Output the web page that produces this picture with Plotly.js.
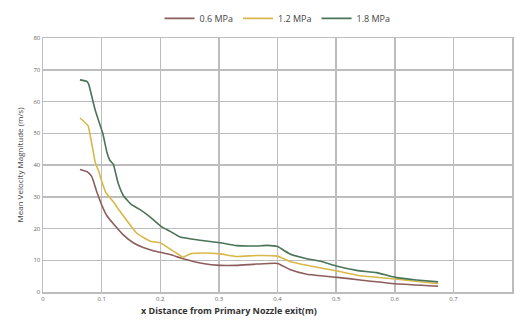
<!DOCTYPE html>
<html>
<head>
<meta charset="utf-8">
<script src="https://cdn.plot.ly/plotly-3.0.1.min.js"></script>
<style>html,body{margin:0;padding:0;background:#fff;}#chart{width:516px;height:322px;}</style>
</head>
<body>
<div id="chart"></div>
<script>
// Series names
const seriesNames = ["0.6 MPa", "1.2 MPa", "1.8 MPa"];

// 0.6 MPa
const x06 = [0.063,0.075,0.083,0.092,0.100,0.109,0.120,0.137,0.154,0.171,0.188,0.205,0.217,0.239,0.273,0.302,0.330,0.365,0.400,0.421,0.450,0.502,0.541,0.601,0.674];
const v06 = [38.6,37.9,36.4,31.4,27.5,24.0,21.5,18.0,15.5,14.0,13.0,12.3,11.8,10.5,9.0,8.4,8.4,8.8,9.0,7.1,5.6,4.6,3.8,2.6,1.8];

// 1.2 MPa
const x12 = [0.063,0.072,0.077,0.083,0.089,0.095,0.100,0.107,0.120,0.131,0.143,0.160,0.183,0.200,0.217,0.239,0.251,0.273,0.302,0.330,0.365,0.400,0.421,0.450,0.502,0.541,0.601,0.674];
const v12 = [54.8,53.3,52.3,46.9,40.9,38.0,35.0,31.4,28.4,25.5,22.5,18.5,16.0,15.5,13.5,11.0,12.0,12.3,12.0,11.2,11.5,11.3,9.6,8.4,6.6,5.1,4.1,2.6];

// 1.8 MPa
const x18 = [0.063,0.075,0.078,0.089,0.102,0.109,0.114,0.120,0.128,0.137,0.151,0.165,0.183,0.202,0.217,0.234,0.268,0.302,0.330,0.365,0.382,0.400,0.421,0.450,0.475,0.502,0.535,0.569,0.601,0.637,0.674];
const v18 = [66.8,66.3,65.4,57.3,49.9,44.0,41.5,40.2,34.4,30.4,27.5,26.0,23.6,20.6,19.1,17.3,16.3,15.5,14.6,14.5,14.7,14.3,12.0,10.5,9.6,8.1,6.8,6.1,4.6,3.8,3.2];

// Tick labels
const xTicks = [0,0.1,0.2,0.3,0.4,0.5,0.6,0.7,0.8];
const xTickText = ["0","0.1","0.2","0.3","0.4","0.5","0.6","0.7","0.8"];
const yTicks = [0,10,20,30,40,50,60,70,80];

const colors = ["#8b5e5c", "#d8b84a", "#4a7458"];

const traces = [
  {x: x06, y: v06, name: seriesNames[0]},
  {x: x12, y: v12, name: seriesNames[1]},
  {x: x18, y: v18, name: seriesNames[2]}
].map((t, i) => Object.assign(t, {
  type: "scatter", mode: "lines",
  line: {color: colors[i], width: 1.6, shape: "spline", smoothing: 0.4}
}));

const layout = {
  width: 516, height: 322,
  margin: {l: 43, r: 4, t: 24, b: 30},
  paper_bgcolor: "#fff", plot_bgcolor: "#fff",
  font: {family: "Open Sans, Liberation Sans, sans-serif", color: "#555"},
  showlegend: true,
  legend: {
    orientation: "h", x: 0.5, xanchor: "center", y: 1.02, yanchor: "bottom",
    font: {size: 9, color: "#444"}, itemwidth: 30, tracegroupgap: 0,
    bgcolor: "rgba(0,0,0,0)"
  },
  xaxis: {
    range: [0, 0.8], tickvals: xTicks, ticktext: xTickText,
    showgrid: true, gridcolor: "#bdbdbd", gridwidth: 1.5,
    showline: true, linecolor: "#bdbdbd", linewidth: 1.5, mirror: true,
    zeroline: false, ticks: "", tickfont: {size: 6, color: "#666"}
  },
  yaxis: {
    range: [0, 80], tickvals: yTicks,
    showgrid: true, gridcolor: "#bdbdbd", gridwidth: 1.5,
    showline: true, linecolor: "#bdbdbd", linewidth: 1.5, mirror: true,
    zeroline: false, ticks: "", tickfont: {size: 6, color: "#666"},
    title: {text: "Mean Velocity Magnitude (m/s)", font: {size: 8, color: "#444"}, standoff: 8}
  },
  annotations: [{
    xref: "paper", yref: "paper", x: (229 - 43) / 469, y: -0.04,
    xanchor: "center", yanchor: "top", showarrow: false,
    text: "<b>x Distance from Primary Nozzle exit(m)</b>",
    font: {size: 9, color: "#333"}
  }]
};

Plotly.newPlot("chart", traces, layout, {displayModeBar: false, staticPlot: true});
</script>
</body>
</html>
